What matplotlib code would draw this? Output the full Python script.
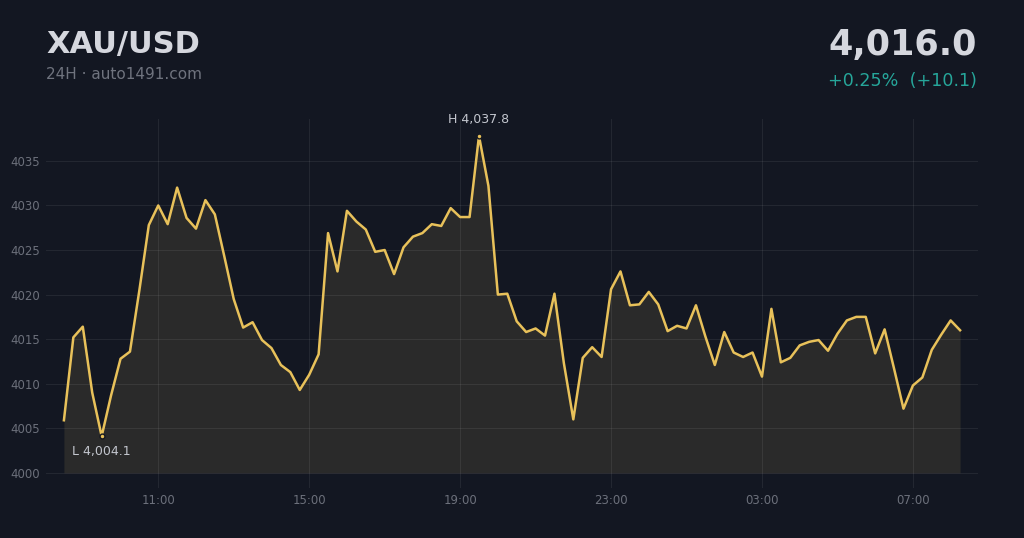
import matplotlib
matplotlib.use("Agg")
import matplotlib.pyplot as plt
import numpy as np
import pandas as pd

plt.rcParams["font.family"] = ["DejaVu Sans"]

# ---- data ----
symbol = "XAU/USD"
subtitle = "24H · auto1491.com"
start_time = "2024-01-01 08:30"
interval_minutes = 15
prices = [
    4005.9, 4015.2, 4016.4, 4009.0, 4004.1, 4008.7, 4012.8, 4013.6, 4020.5, 4027.8,
    4030.0, 4027.9, 4032.0, 4028.6, 4027.4, 4030.6, 4029.0, 4024.3, 4019.5, 4016.3,
    4016.9, 4014.9, 4014.0, 4012.1, 4011.3, 4009.3, 4011.0, 4013.3, 4026.9, 4022.6,
    4029.4, 4028.2, 4027.3, 4024.8, 4025.0, 4022.3, 4025.3, 4026.5, 4026.9, 4027.9,
    4027.7, 4029.7, 4028.7, 4028.7, 4037.8, 4032.2, 4020.0, 4020.1, 4017.0, 4015.8,
    4016.2, 4015.4, 4020.1, 4012.3, 4006.0, 4012.9, 4014.1, 4013.0, 4020.6, 4022.6,
    4018.8, 4018.9, 4020.3, 4018.9, 4015.9, 4016.5, 4016.2, 4018.8, 4015.3, 4012.1,
    4015.8, 4013.5, 4013.0, 4013.5, 4010.8, 4018.4, 4012.4, 4012.9, 4014.3, 4014.7,
    4014.9, 4013.7, 4015.6, 4017.1, 4017.5, 4017.5, 4013.4, 4016.1, 4011.7, 4007.2,
    4009.8, 4010.7, 4013.8, 4015.5, 4017.1, 4016.0,
]
y_ticks = [4000, 4005, 4010, 4015, 4020, 4025, 4030, 4035]
x_tick_labels = ["11:00", "15:00", "19:00", "23:00", "03:00", "07:00"]
x_tick_times = ["2024-01-01 11:00", "2024-01-01 15:00", "2024-01-01 19:00",
                "2024-01-01 23:00", "2024-01-02 03:00", "2024-01-02 07:00"]
last_price_text = "4,016.0"
change_text = "+0.25%  (+10.1)"

# ---- styling ----
BG = "#131722"
LINE = "#e8c15a"
FILL = "#2a2a2a"
GRID = "#ffffff"
TITLE = "#d5d7de"
SUB = "#6f737e"
TICK = "#6c707b"
GREEN = "#26a69a"
ANN = "#c3c6ce"

times = pd.date_range(start_time, periods=len(prices), freq=f"{interval_minutes}min")
vals = np.array(prices)

fig = plt.figure(figsize=(10.24, 5.38), dpi=100, facecolor=BG)
ax = fig.add_axes([46/1024, 1-488/538, (978-46)/1024, (488-119)/538])
ax.set_facecolor(BG)

ax.fill_between(times, vals, 4000, color=FILL, linewidth=0, zorder=1)
ax.plot(times, vals, color=LINE, linewidth=1.8, zorder=3, solid_joinstyle="round")

ax.set_ylim(3998.3, 4039.7)
ax.margins(x=0.02)
ax.set_yticks(y_ticks)
ax.set_yticklabels([str(t) for t in y_ticks])
xt = pd.to_datetime(x_tick_times)
ax.set_xticks(xt)
ax.set_xticklabels(x_tick_labels)

ax.grid(True, color=GRID, alpha=0.07, linewidth=0.8)
ax.set_axisbelow(False)
for gl in ax.get_xgridlines() + ax.get_ygridlines():
    gl.set_zorder(2)
for s in ax.spines.values():
    s.set_visible(False)
ax.tick_params(axis="both", length=0, colors=TICK, labelsize=8.5)
ax.tick_params(axis="y", pad=4)
ax.tick_params(axis="x", pad=4)

# high / low markers
hi = int(np.argmax(vals))
lo = int(np.argmin(vals))
for idx in (hi, lo):
    ax.plot(times[idx], vals[idx], marker="o", markersize=3.5, color=LINE,
            markeredgecolor=BG, markeredgewidth=1.0, zorder=4)
ax.annotate(f"H {vals[hi]:,.1f}", (times[hi], vals[hi]), xytext=(0, 7),
            textcoords="offset points", ha="center", va="bottom",
            color=ANN, fontsize=9, zorder=5)
ax.annotate(f"L {vals[lo]:,.1f}", (times[lo], vals[lo]), xytext=(0, -6),
            textcoords="offset points", ha="center", va="top",
            color=ANN, fontsize=9, zorder=5)

# header texts
fig.text(46/1024, 1-53/538, symbol, color=TITLE, fontsize=22, fontweight="bold",
         ha="left", va="baseline")
fig.text(46/1024, 1-79/538, subtitle, color=SUB, fontsize=11,
         ha="left", va="baseline")
fig.text(977/1024, 1-55/538, last_price_text, color=TITLE, fontsize=25.2,
         fontweight="bold", ha="right", va="baseline")
fig.text(977/1024, 1-86/538, change_text, color=GREEN, fontsize=12.6,
         ha="right", va="baseline")

fig.savefig("out.png", dpi=100, facecolor=BG)
